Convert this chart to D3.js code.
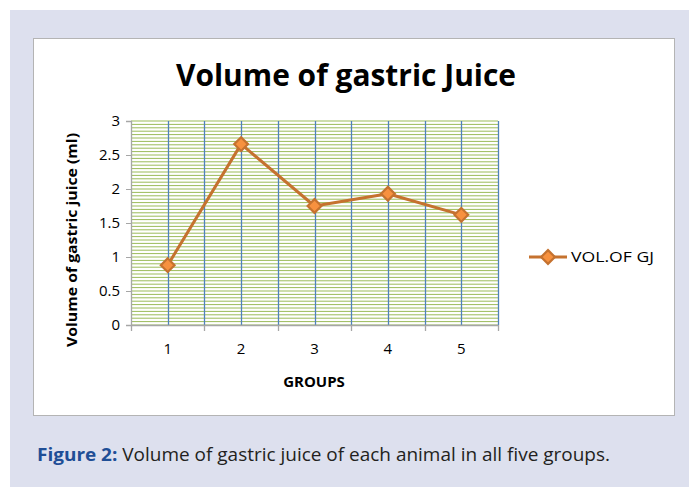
<!DOCTYPE html>
<html>
<head>
<meta charset="utf-8">
<script src="https://cdn.jsdelivr.net/npm/d3@7"></script>
<style>
  html, body { margin: 0; padding: 0; background: #ffffff; }
  svg { display: block; }
</style>
</head>
<body>
<svg id="chart" width="689" height="489"></svg>
<script>
const categories = ["1", "2", "3", "4", "5"];
const seriesName = "VOL.OF GJ";
const values = [0.88, 2.66, 1.75, 1.93, 1.62];
const yTicks = [0, 0.5, 1, 1.5, 2, 2.5, 3];
const yTickLabels = ["0", "0.5", "1", "1.5", "2", "2.5", "3"];
const titleText = "Volume of gastric Juice";
const yTitle = "Volume of gastric juice (ml)";
const xTitle = "GROUPS";
const captionBold = "Figure 2:";
const captionRest = " Volume of gastric juice of each animal in all five groups.";

const svg = d3.select("#chart");
const font = "'Open Sans', 'DejaVu Sans', sans-serif";

// Background panel
svg.append("rect").attr("x", 10).attr("y", 10).attr("width", 679).attr("height", 477).attr("fill", "#dde0ee");
// Chart box
svg.append("rect").attr("x", 33.5).attr("y", 38.5).attr("width", 641).attr("height", 377)
  .attr("fill", "#ffffff").attr("stroke", "#b4b4b4").attr("stroke-width", 1);

const plot = { left: 131, right: 498, top: 121, bottom: 325 };

const x = d3.scaleBand().domain(categories).range([plot.left, plot.right]).padding(0);
const y = d3.scaleLinear().domain([0, 3]).range([plot.bottom, plot.top]);

// Minor horizontal gridlines (green)
const minorY = d3.range(0, 61).map(i => i * 0.05);
svg.append("g").selectAll("line").data(minorY).join("line")
  .attr("x1", plot.left).attr("x2", plot.right)
  .attr("y1", d => y(d)).attr("y2", d => y(d))
  .attr("stroke", "#9bbb59").attr("stroke-width", 1);

// Vertical gridlines (blue) at category centers and boundaries
const vLines = [];
categories.forEach(c => { vLines.push(x(c) + x.bandwidth() / 2); vLines.push(x(c) + x.bandwidth()); });
svg.append("g").selectAll("line").data(vLines).join("line")
  .attr("x1", d => Math.round(d) + 0.5).attr("x2", d => Math.round(d) + 0.5)
  .attr("y1", plot.top).attr("y2", plot.bottom)
  .attr("stroke", "#4f81bd").attr("stroke-width", 1.3);

// Y axis
const yAxis = d3.axisLeft(y).tickValues(yTicks).tickFormat((d, i) => yTickLabels[i]).tickSize(5).tickPadding(6);
const gy = svg.append("g").attr("transform", `translate(${plot.left},0)`).call(yAxis);
gy.attr("font-size", 15).attr("font-family", font);
gy.select(".domain").attr("stroke", "#a6a6a6").attr("stroke-width", 1.3);
gy.selectAll(".tick line").attr("stroke", "#a6a6a6");
gy.selectAll(".tick text").attr("fill", "#000");

// X axis
const xAxis = d3.axisBottom(x).tickSize(0).tickPadding(18);
const gx = svg.append("g").attr("transform", `translate(0,${plot.bottom})`).call(xAxis);
gx.attr("font-size", 15).attr("font-family", font);
gx.select(".domain").attr("stroke", "#a6a6a6").attr("stroke-width", 1.3);
gx.selectAll(".tick text").attr("fill", "#000");
// boundary tick marks
const bounds = [plot.left].concat(categories.map(c => x(c) + x.bandwidth()));
svg.append("g").selectAll("line").data(bounds).join("line")
  .attr("x1", d => Math.round(d) + 0.5).attr("x2", d => Math.round(d) + 0.5)
  .attr("y1", plot.bottom).attr("y2", plot.bottom + 6)
  .attr("stroke", "#a6a6a6").attr("stroke-width", 1.3);

// Line
const lineColor = "#c5722f";
const markerFill = "#f7913f";
const line = d3.line().x((d, i) => x(categories[i]) + x.bandwidth() / 2).y(d => y(d));
svg.append("path").datum(values).attr("d", line)
  .attr("fill", "none").attr("stroke", lineColor).attr("stroke-width", 3).attr("stroke-linejoin", "round");

const diamond = d3.symbol().type(d3.symbolDiamond2).size(120);
svg.append("g").selectAll("path").data(values).join("path")
  .attr("d", diamond)
  .attr("transform", (d, i) => `translate(${x(categories[i]) + x.bandwidth() / 2},${y(d)})`)
  .attr("fill", markerFill).attr("stroke", lineColor).attr("stroke-width", 2.2);

// Title
svg.append("text").attr("x", 346).attr("y", 86).attr("text-anchor", "middle")
  .attr("font-family", font).attr("font-weight", "bold").attr("font-size", 30)
  .attr("textLength", 340).attr("lengthAdjust", "spacingAndGlyphs")
  .attr("fill", "#000").text(titleText);

// Y title
svg.append("text").attr("transform", "translate(77,240) rotate(-90)").attr("text-anchor", "middle")
  .attr("font-family", font).attr("font-weight", "bold").attr("font-size", 15)
  .attr("textLength", 214).attr("lengthAdjust", "spacingAndGlyphs")
  .attr("fill", "#000").text(yTitle);

// X title
svg.append("text").attr("x", 314).attr("y", 387).attr("text-anchor", "middle")
  .attr("font-family", font).attr("font-weight", "bold").attr("font-size", 15)
  .attr("fill", "#000").text(xTitle);

// Legend
const lg = svg.append("g");
lg.append("line").attr("x1", 529).attr("x2", 567).attr("y1", 257).attr("y2", 257)
  .attr("stroke", lineColor).attr("stroke-width", 3);
lg.append("path").attr("d", diamond).attr("transform", "translate(548,257)")
  .attr("fill", markerFill).attr("stroke", lineColor).attr("stroke-width", 2.2);
lg.append("text").attr("x", 571).attr("y", 262).attr("font-family", font).attr("font-size", 15)
  .attr("textLength", 83).attr("lengthAdjust", "spacingAndGlyphs")
  .attr("fill", "#000").text(seriesName);

// Caption
const cap = svg.append("text").attr("x", 37).attr("y", 461).attr("font-family", font).attr("font-size", 18)
  .attr("textLength", 573).attr("lengthAdjust", "spacingAndGlyphs");
cap.append("tspan").attr("font-weight", "bold").attr("fill", "#1f4e96").text(captionBold);
cap.append("tspan").attr("fill", "#231f20").text(captionRest);
</script>
</body>
</html>
